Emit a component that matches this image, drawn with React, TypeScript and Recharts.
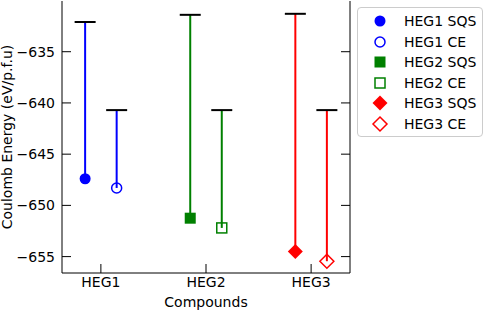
import React from "react";
import { ComposedChart, Scatter, XAxis, YAxis } from "recharts";

const compounds = ["HEG1", "HEG2", "HEG3"];
const sqsEnergy = [-647.4, -651.25, -654.5];
const ceEnergy = [-648.3, -652.2, -655.45];
const sqsTop = [-632.1, -631.4, -631.3];
const ceTop = [-640.7, -640.7, -640.7];
const yTicks = [-655, -650, -645, -640, -635];

const colors = ["#0000ff", "#008000", "#ff0000"];
const markers = ["circle", "square", "diamond"];
const FONT = "'DejaVu Sans', sans-serif";

type Series = {
  name: string;
  color: string;
  marker: string;
  filled: boolean;
  rows: { x: number; y: number; kind: string }[];
};

const series: Series[] = [];
compounds.forEach((c, i) => {
  series.push({
    name: `${c} SQS`,
    color: colors[i],
    marker: markers[i],
    filled: true,
    rows: [
      { x: i + 1 - 0.15, y: sqsTop[i], kind: "cap" },
      { x: i + 1 - 0.15, y: sqsEnergy[i], kind: "mark" },
    ],
  });
  series.push({
    name: `${c} CE`,
    color: colors[i],
    marker: markers[i],
    filled: false,
    rows: [
      { x: i + 1 + 0.15, y: ceTop[i], kind: "cap" },
      { x: i + 1 + 0.15, y: ceEnergy[i], kind: "mark" },
    ],
  });
});

function Marker({ cx, cy, marker, filled, color }: { cx: number; cy: number; marker: string; filled: boolean; color: string }) {
  const fill = filled ? color : "none";
  const sw = filled ? 0 : 1.5;
  if (marker === "circle") {
    const r = filled ? 5.5 : 5;
    return <circle cx={cx} cy={cy} r={r} fill={fill} stroke={color} strokeWidth={sw} />;
  }
  if (marker === "square") {
    const h = filled ? 5.5 : 5;
    return <rect x={cx - h} y={cy - h} width={2 * h} height={2 * h} fill={fill} stroke={color} strokeWidth={sw} />;
  }
  const d = filled ? 7.5 : 7;
  return (
    <polygon
      points={`${cx},${cy - d} ${cx + d},${cy} ${cx},${cy + d} ${cx - d},${cy}`}
      fill={fill}
      stroke={color}
      strokeWidth={sw}
    />
  );
}

function Legend() {
  return (
    <div
      style={{
        position: "absolute",
        left: 357,
        top: 7,
        width: 124,
        height: 128,
        border: "1px solid #cccccc",
        borderRadius: 4,
        background: "#fff",
        fontFamily: FONT,
        fontSize: 14,
      }}
    >
      {series.map((s, i) => (
        <div key={s.name} style={{ position: "absolute", left: 0, top: 3 + i * 20.6, height: 20, display: "flex", alignItems: "center" }}>
          <svg width={44} height={20} style={{ display: "block" }}>
            <Marker cx={22} cy={10} marker={s.marker} filled={s.filled} color={s.color} />
          </svg>
          <span style={{ marginLeft: 2, whiteSpace: "nowrap", color: "#000" }}>{s.name}</span>
        </div>
      ))}
    </div>
  );
}

const fmt = (v: number) => String(v).replace("-", "\u2212");

export default function App() {
  return (
    <div style={{ position: "absolute", left: 0, top: 0, width: 484, height: 310, background: "#fff" }}>
      <ComposedChart width={484} height={310} margin={{ top: 1, right: 0, bottom: 0, left: 0 }}>
        <XAxis
          xAxisId="main"
          type="number"
          dataKey="x"
          domain={[0.63, 3.37]}
          ticks={[1, 2, 3]}
          tickFormatter={(v: number) => compounds[Math.round(v) - 1]}
          allowDataOverflow
          height={37}
          tickSize={-9}
          tickMargin={13}
          stroke="#000"
          tick={{ fill: "#000", fontSize: 14, fontFamily: FONT }}
          label={{ value: "Compounds", position: "insideBottom", offset: 3, fill: "#000", fontSize: 14, fontFamily: FONT }}
        />
        <XAxis
          xAxisId="top"
          orientation="top"
          type="number"
          domain={[0.63, 3.37]}
          height={0}
          tick={false}
          tickLine={false}
          stroke="#000"
        />
        <YAxis
          yAxisId="main"
          type="number"
          dataKey="y"
          domain={[-656.6, -630.05]}
          ticks={yTicks}
          allowDataOverflow
          width={62}
          tickSize={-9}
          tickMargin={16}
          tickFormatter={fmt}
          stroke="#000"
          tick={{ fill: "#000", fontSize: 14, fontFamily: FONT }}
          label={{
            value: "Coulomb Energy (eV/p.f.u)",
            angle: -90,
            position: "insideLeft",
            offset: 7,
            fill: "#000",
            fontSize: 14,
            fontFamily: FONT,
            style: { textAnchor: "middle" },
          }}
        />
        <YAxis
          yAxisId="right"
          orientation="right"
          type="number"
          domain={[-656.6, -630.05]}
          ticks={yTicks}
          allowDataOverflow
          width={134}
          tickSize={-9}
          tickFormatter={() => ""}
          stroke="#000"
        />
        {series.map((s) => (
          <Scatter
            key={s.name}
            name={s.name}
            data={s.rows}
            xAxisId="main"
            yAxisId="main"
            line={{ stroke: s.color, strokeWidth: 2 }}
            isAnimationActive={false}
            legendType="none"
            shape={(p: any) =>
              p.payload.kind === "cap" ? (
                <line x1={p.cx - 10.5} x2={p.cx + 10.5} y1={p.cy} y2={p.cy} stroke="#000" strokeWidth={2} />
              ) : (
                <Marker cx={p.cx} cy={p.cy} marker={s.marker} filled={s.filled} color={s.color} />
              )
            }
          />
        ))}
      </ComposedChart>
      <Legend />
    </div>
  );
}
